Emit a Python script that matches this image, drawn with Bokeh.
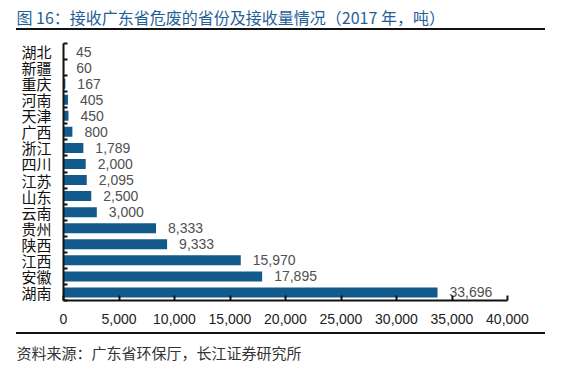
from bokeh.plotting import figure
from bokeh.layouts import column
from bokeh.models import Range1d, FixedTicker, NumeralTickFormatter, ColumnDataSource, Div
from bokeh.core.properties import value
from bokeh.embed import file_html
from bokeh.resources import INLINE

provinces = ["湖北", "新疆", "重庆", "河南", "天津", "广西", "浙江", "四川", "江苏", "山东", "云南", "贵州", "陕西", "江西", "安徽", "湖南"]
amounts = [45, 60, 167, 405, 450, 800, 1789, 2000, 2095, 2500, 3000, 8333, 9333, 15970, 17895, 33696]
x_ticks = [0, 5000, 10000, 15000, 20000, 25000, 30000, 35000, 40000]

title_text = "图 16：接收广东省危废的省份及接收量情况（2017 年，吨）"
source_text = "资料来源：广东省环保厅，长江证券研究所"

CJK = "Noto Sans CJK SC"
LAT = "Liberation Sans"
BAR = "#135a8c"
W = 561
TH, MH, SH = 28, 302, 33

n = len(provinces)
idx = list(range(n))


def clear(f):
    f.frame_align = False
    f.outline_line_color = None
    f.grid.visible = False
    f.border_fill_alpha = 0
    f.background_fill_alpha = 0


def strip(h):
    f = figure(width=W, height=h, x_range=Range1d(0, W), y_range=Range1d(0, h), title=None,
               output_backend="svg", toolbar_location=None, min_border=0)
    clear(f)
    f.axis.visible = False
    return f


def rule(h):
    return Div(text="", width=W - 32, height=h, margin=(0, 0, 0, 16),
               styles={"background-color": "#111111", "border-top": f"{h}px solid #111111"})


# ---- title strip ----
t = strip(TH)
t.text(x=[16], y=[TH - 16], text=[title_text], text_font=value(CJK), text_font_size="16px",
       text_color="#1f5f99", text_baseline="middle", text_align="left")

# ---- main chart ----
p = figure(width=W, height=MH, x_range=Range1d(0, 40000), y_range=Range1d(n - 0.5, -0.5), title=None,
           output_backend="svg", toolbar_location=None,
           min_border_left=63, min_border_right=54, min_border_top=13, min_border_bottom=32)
clear(p)

src = ColumnDataSource(dict(y=idx, v=amounts, lab=[f"{a:,}" for a in amounts]))
p.hbar(y="y", right="v", left=0, height=0.62, source=src, fill_color=BAR, line_color=None)
p.text(x="v", y="y", text="lab", source=src, x_offset=12, text_baseline="middle",
       text_align="left", text_font=value(LAT), text_font_size="14px", text_color="#505050")

xa = p.xaxis[0]
xa.ticker = FixedTicker(ticks=x_ticks)
xa.formatter = NumeralTickFormatter(format="0,0")
xa.major_tick_in = 5
xa.major_tick_out = 0
xa.minor_tick_line_color = None
xa.axis_line_width = 2
xa.axis_line_color = "#111111"
xa.major_tick_line_color = "#111111"
xa.major_tick_line_width = 2
xa.major_label_standoff = 13
xa.major_label_text_font = LAT
xa.major_label_text_font_size = "14px"
xa.major_label_text_color = "#222222"

ya = p.yaxis[0]
ya.ticker = FixedTicker(ticks=idx, minor_ticks=[i - 0.5 for i in range(n + 1)])
ya.major_label_overrides = {i: provinces[i] for i in idx}
ya.major_tick_in = 0
ya.major_tick_out = 0
ya.minor_tick_in = 4
ya.minor_tick_out = 0
ya.minor_tick_line_color = "#111111"
ya.minor_tick_line_width = 2
ya.axis_line_width = 2
ya.axis_line_color = "#111111"
ya.major_label_standoff = 12
ya.major_label_text_font = CJK
ya.major_label_text_font_size = "15px"
ya.major_label_text_color = "#111111"

# ---- source strip ----
s = strip(SH)
s.text(x=[16], y=[SH - 18], text=[source_text], text_font=value(CJK), text_font_size="15px",
       text_color="#333333", text_baseline="middle", text_align="left")

layout = column(t, rule(2), p, rule(2), s, spacing=0)
open("out.html", "w").write(file_html(layout, INLINE))
